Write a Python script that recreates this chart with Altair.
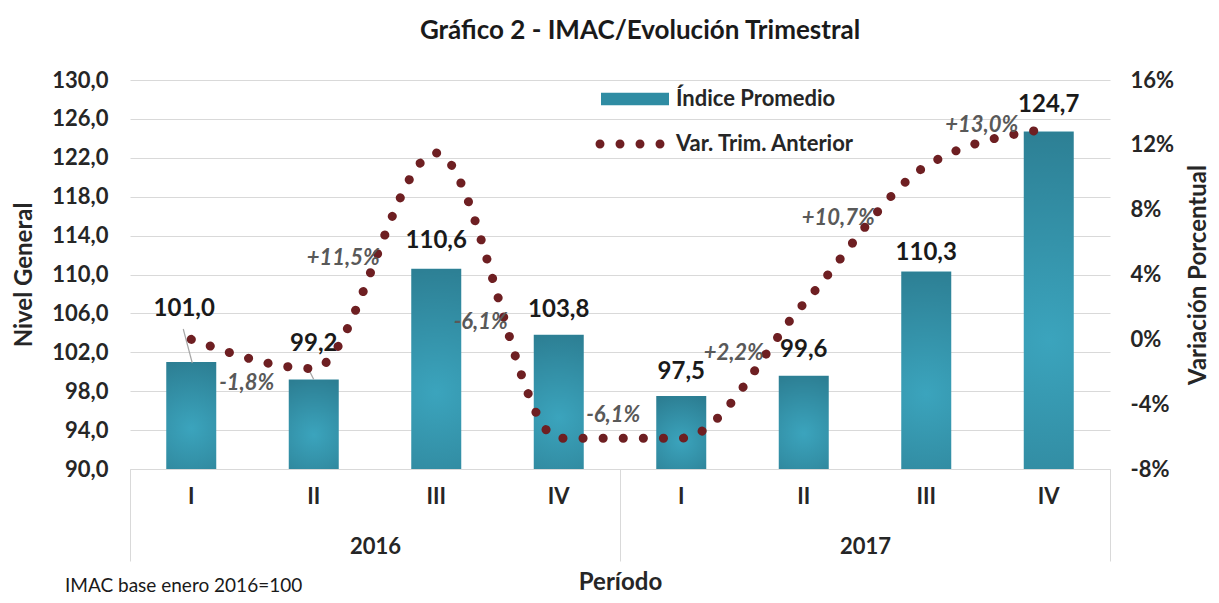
import altair as alt
import pandas as pd

# ---------------- data ----------------
periodos = ["2016-I", "2016-II", "2016-III", "2016-IV",
            "2017-I", "2017-II", "2017-III", "2017-IV"]
anios = ["2016", "2017"]
indice = [101.0, 99.2, 110.6, 103.8, 97.5, 99.6, 110.3, 124.7]
variacion = [0.0, -1.8, 11.5, -6.1, -6.1, 2.2, 10.7, 13.0]
series = ["Índice Promedio", "Var. Trim. Anterior"]
y_left_ticks = [90, 94, 98, 102, 106, 110, 114, 118, 122, 126, 130]
y_right_ticks = [-8, -4, 0, 4, 8, 12, 16]
titulo = "Gráfico 2 - IMAC/Evolución Trimestral"
nota = ["IMAC base enero 2016=100"]

df = pd.DataFrame({"periodo": periodos, "indice": indice, "var": variacion})
df["lbl_ind"] = [f"{v:.1f}".replace(".", ",") for v in indice]
df["lbl_var"] = [f"{v:+.1f}".replace(".", ",") + "%" for v in variacion]
df_years = pd.DataFrame({"anio": anios})
df_leg = pd.DataFrame({"serie": series, "periodo": [periodos[0]] * 2, "y": [0, 0]})
df_note = pd.DataFrame({"t": nota})

# ---------------- style ----------------
FONT = "Lato"
TEAL = "#2F8CA3"
RED = "#6E1F22"
GRID = "#D9D9D9"
INK = "#262626"
TICK = 22
AXT = 24

bar_dx = [-7, 0, 0, 0, 0, 0, 0, 0]
bar_dy = [-53, -36, -28, -25, -24, -26, -19, -27]
pct_dx = [-67, -93, -78, -68, -70, -88, -67]
pct_dy = [14, 105, -116, -23, 49, 52, -4]
# leader lines (label -> bar) for the first two bars
lead_idx = [0, 1]
lead_off = [(1, 1, -8, -33), (0, 0, -7, -14)]

xq = alt.X("periodo:N", sort=periodos,
           scale=alt.Scale(paddingInner=0, paddingOuter=0),
           axis=alt.Axis(title=None, labelExpr="split(datum.value,'-')[1]",
                         ticks=False, domain=True, domainColor=GRID,
                         labelAngle=0, labelPadding=17, labelFontSize=TICK,
                         labelFontWeight="bold", labelColor=INK,
                         labelFont=FONT))

yl_scale = alt.Scale(domain=[90, 130], nice=False, zero=False)
yl = alt.Y("indice:Q", scale=yl_scale,
           axis=alt.Axis(title="Nivel General", values=y_left_ticks, tickCount=20,
                         labelExpr="replace(format(datum.value,'.1f'),'.',',')",
                         labelOverlap=False,
                         grid=True, gridColor=GRID, domain=False, ticks=False,
                         labelPadding=22, labelFontSize=TICK, labelFontWeight="bold",
                         labelColor=INK, labelFont=FONT,
                         titleFontSize=AXT, titleFontWeight="bold", titleFont=FONT,
                         titleColor=INK, titlePadding=15))

yr_scale = alt.Scale(domain=[-8, 16], nice=False, zero=False)
yr = alt.Y("var:Q", scale=yr_scale,
           axis=alt.Axis(title="Variación Porcentual", orient="right",
                         values=y_right_ticks, tickCount=20,
                         labelExpr="datum.value + '%'", labelOverlap=False,
                         grid=False, domain=False, ticks=False,
                         labelPadding=20, labelFontSize=TICK, labelFontWeight="bold",
                         labelColor=INK, labelFont=FONT,
                         titleFontSize=AXT, titleFontWeight="bold", titleFont=FONT,
                         titleColor=INK, titlePadding=37, titleAngle=270))

base = alt.Chart(df)

grad = alt.Gradient(
    gradient="radial",
    stops=[alt.GradientStop(color="#3BA4BD", offset=0),
           alt.GradientStop(color="#2A788C", offset=1)],
    x1=0.5, y1=0.62, r1=0, x2=0.5, y2=0.62, r2=0.75)

bars = base.mark_bar(size=50, color=grad).encode(x=xq, y=yl, y2=alt.datum(90))

bar_labels = []
for i, p in enumerate(periodos):
    bar_labels.append(
        base.transform_filter(alt.datum.periodo == p)
        .mark_text(font=FONT, fontSize=24, fontWeight="bold", color="#1a1a1a",
                   baseline="middle", dx=bar_dx[i], dy=bar_dy[i])
        .encode(x=xq, y=alt.Y("indice:Q", scale=yl_scale), text="lbl_ind:N"))

leaders = []
for k, i in enumerate(lead_idx):
    xo, yo, x2o, y2o = lead_off[k]
    leaders.append(
        base.transform_filter(alt.datum.periodo == periodos[i])
        .mark_rule(color="#A6A6A6", strokeWidth=1.2, xOffset=xo, yOffset=yo,
                   x2Offset=x2o, y2Offset=y2o)
        .encode(x=xq, x2=alt.X2("periodo"), y=alt.Y("indice:Q", scale=yl_scale),
                y2=alt.Y2("indice")))

# legend (drawn by Altair's legend, dummy layer clipped away)
bar_sym = "M-3.4,-0.62L3.4,-0.62L3.4,0.62L-3.4,0.62Z"
r = 0.45
dots = ""
for cx in [-3.5, -1.5, 0.5, 2.5]:
    dots += f"M{cx - r},0A{r},{r} 0 1,0 {cx + r},0A{r},{r} 0 1,0 {cx - r},0Z"
leg = alt.Legend(title=None, orient="none", legendX=470, legendY=8,
                 symbolSize=400, symbolStrokeWidth=0, symbolOpacity=1,
                 symbolOffset=24, labelOffset=30, rowPadding=23,
                 labelFontSize=22, labelFontWeight="bold", labelFont=FONT,
                 labelColor=INK, labelLimit=400)
legend_layer = alt.Chart(df_leg).mark_point(filled=True, clip=True, size=10).encode(
    x=alt.X("periodo:N", sort=periodos),
    y=alt.Y("y:Q", scale=yl_scale),
    color=alt.Color("serie:N", scale=alt.Scale(domain=series, range=[TEAL, RED]),
                    legend=leg),
    shape=alt.Shape("serie:N", scale=alt.Scale(domain=series, range=[bar_sym, dots]),
                    legend=leg),
)

left = alt.layer(bars, *leaders, *bar_labels, legend_layer)

line = base.mark_line(interpolate="monotone", strokeDash=[0.1, 20], strokeCap="round",
                      strokeWidth=9, color=RED).encode(x=xq, y=yr)

pct_labels = []
for i, p in enumerate(periodos[1:]):
    pct_labels.append(
        base.transform_filter(alt.datum.periodo == p)
        .mark_text(font=FONT, fontSize=22, fontWeight="bold", fontStyle="italic",
                   color="#595959", baseline="middle", dx=pct_dx[i], dy=pct_dy[i])
        .encode(x=xq, y=alt.Y("var:Q", scale=yr_scale), text="lbl_var:N"))

right = alt.layer(line, *pct_labels)

main = alt.layer(left, right).resolve_scale(y="independent")

year_layer = alt.Chart(df_years).mark_text(text="").encode(
    x=alt.X("anio:N", sort=anios, scale=alt.Scale(paddingInner=0, paddingOuter=0),
            axis=alt.Axis(orient="bottom", title="Período", tickBand="extent",
                          tickSize=92, tickColor=GRID, domain=False, labelAngle=0,
                          labelPadding=-25, labelFontSize=TICK, labelFontWeight="bold",
                          labelColor=INK, labelFont=FONT,
                          titleFontSize=AXT, titleFontWeight="bold", titleFont=FONT,
                          titleColor=INK, titlePadding=9)))

note_layer = alt.Chart(df_note).mark_text(
    font=FONT, fontSize=19, align="left", baseline="middle", color="#1a1a1a"
).encode(text="t:N", x=alt.value(-65), y=alt.value(506))

chart = alt.layer(main, year_layer, note_layer).resolve_scale(x="independent").properties(
    width=980, height=389,
    autosize=alt.AutoSizeParams(type="none"),
    padding={"left": 122, "top": 72, "right": 101, "bottom": 126},
    title=alt.TitleParams(titulo, font=FONT, fontSize=26, fontWeight="bold",
                          color="#1a1a1a", anchor="middle", dx=20, offset=25),
).configure_view(stroke=None)

chart.save("out.html", embed_options={"renderer": "svg", "actions": False})
